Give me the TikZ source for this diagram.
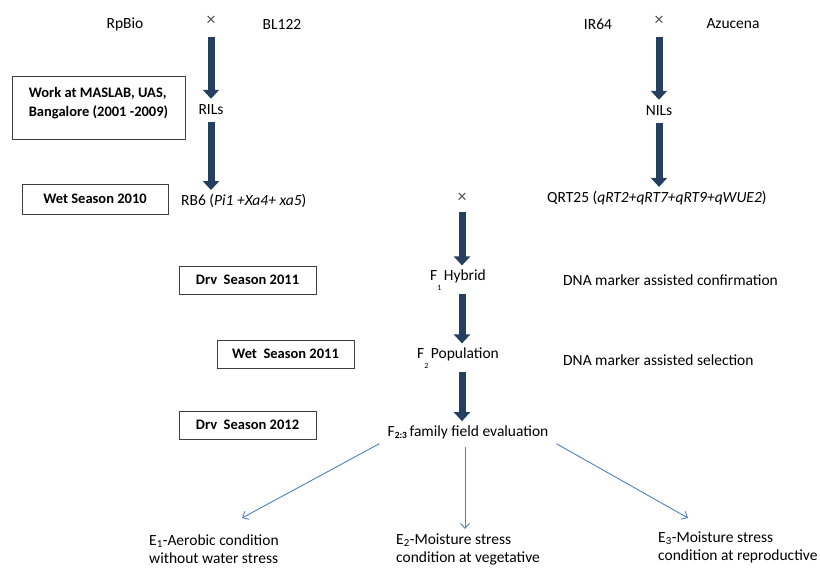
\documentclass[tikz,border=0pt]{standalone}
\usepackage{fontspec}
\setmainfont{Carlito}
\usetikzlibrary{positioning,arrows.meta}

\definecolor{navy}{HTML}{243F60}
\definecolor{steel}{HTML}{4F81BD}
\definecolor{boxline}{HTML}{404040}

\begin{document}
\begin{tikzpicture}[x=1pt,y=-1pt,
  txt/.style={font=\fontsize{15.5}{18}\selectfont, inner sep=1pt},
  cross/.style={font=\fontsize{18}{18}\selectfont, text=black!70, inner sep=1pt},
  season/.style={draw=boxline, line width=1pt, font=\fontsize{14.5}{19}\selectfont\bfseries,
    minimum width=137pt, minimum height=28pt, inner sep=2pt},
  bigarrow/.style={draw=navy, line width=7pt, -{Triangle[width=16pt,length=9pt]}},
  fanarrow/.style={draw=steel, line width=0.9pt, -{Straight Barb[length=5pt,width=9pt]}}]
  \useasboundingbox (0,0) rectangle (820,568);

  % parents
  \node[txt] (rpbio) at (125,24) {RpBio};
  \node[cross] (xa) at (211,21) {×};
  \node[txt] (bl122) at (282,24) {BL122};
  \node[txt] (ir64) at (598,24) {IR64};
  \node[cross] (xb) at (659,21) {×};
  \node[txt] (azucena) at (733,24) {Azucena};

  % lines
  \node[txt] (rils) at (211,110) {RILs};
  \node[txt] (nils) at (659,111) {NILs};
  \node[txt, anchor=west] (rb6) at (180,201) {RB6 (\textit{Pi1 +Xa4+ xa5})};
  \node[txt, anchor=west] (qrt) at (546,198) {QRT25 (\textit{qRT2+qRT7+qRT9+qWUE2})};
  \node[cross] (xc) at (462,198) {×};

  % crossing
  \node[txt] (f1) at (458,280) {F\raisebox{-10pt}{\fontsize{8}{8}\selectfont 1}\,Hybrid};
  \node[txt] (f2) at (458,358) {F\raisebox{-10pt}{\fontsize{8}{8}\selectfont 2}\,Population};
  \node[txt] (f23) at (468,432) {F\raisebox{-2pt}{\fontsize{9.5}{9}\selectfont\bfseries 2:3}\,family field evaluation};
  \node[txt, anchor=west] (dna1) at (562,280) {DNA marker assisted confirmation};
  \node[txt, anchor=west] (dna2) at (562,360) {DNA marker assisted selection};

  % seasons
  \node[draw=boxline, line width=1pt, font=\fontsize{14.5}{19}\selectfont\bfseries,
    minimum width=173pt, minimum height=63pt, align=left, inner sep=2pt] (maslab) at (98.5,107.5)
    {Work at MASLAB, UAS,\\Bangalore (2001 -2009)\\[-8pt]\mbox{}};
  \node[season, minimum width=146pt, minimum height=30pt] (wet10) at (95,199) {Wet Season 2010\hspace{12pt}};
  \node[season] (dry11) at (247.5,280) {Drv~ Season 2011};
  \node[season] (wet11) at (285.5,354) {Wet~ Season 2011};
  \node[season] (dry12) at (247.5,425) {Drv~ Season 2012};

  % environments
  \node[txt, anchor=west, align=left] (e1) at (148,549) {E\textsubscript{1}-Aerobic condition\\without water stress};
  \node[txt, anchor=west, align=left] (e2) at (395,549) {E\textsubscript{2}-Moisture stress\\condition at vegetative};
  \node[txt, anchor=west, align=left] (e3) at (657,547) {E\textsubscript{3}-Moisture stress\\condition at reproductive};
  \coordinate (t1) at (242,518);
  \coordinate (t2) at (465,529);
  \coordinate (t3) at (688,518);

  % thick arrows
  \draw[bigarrow, shorten <=10pt, shorten >=5pt] (xa.south) -- (rils.north);
  \draw[bigarrow, shorten <=6pt, shorten >=3pt] (rils.south) -- (rils.south |- rb6.north);
  \draw[bigarrow, shorten <=10pt, shorten >=5pt] (xb.south) -- (nils.north);
  \draw[bigarrow, shorten <=6pt, shorten >=3pt] (nils.south) -- (nils.south |- qrt.north);
  \draw[bigarrow, shorten <=8pt, shorten >=3pt] (xc.south) -- (xc.south |- f1.north);
  \draw[bigarrow, shorten <=2pt, shorten >=3pt] (xc |- f1.south) -- (xc |- f2.north);
  \draw[bigarrow, shorten <=2pt, shorten >=3pt] (xc |- f2.south) -- (xc |- f23.north);

  % thin arrows
  \draw[fanarrow, shorten <=8pt] (f23.south west) -- (t1);
  \draw[fanarrow, shorten <=7pt] (f23.south -| t2) -- (t2);
  \draw[fanarrow, shorten <=8pt] (f23.south east) -- (t3);
\end{tikzpicture}
\end{document}
